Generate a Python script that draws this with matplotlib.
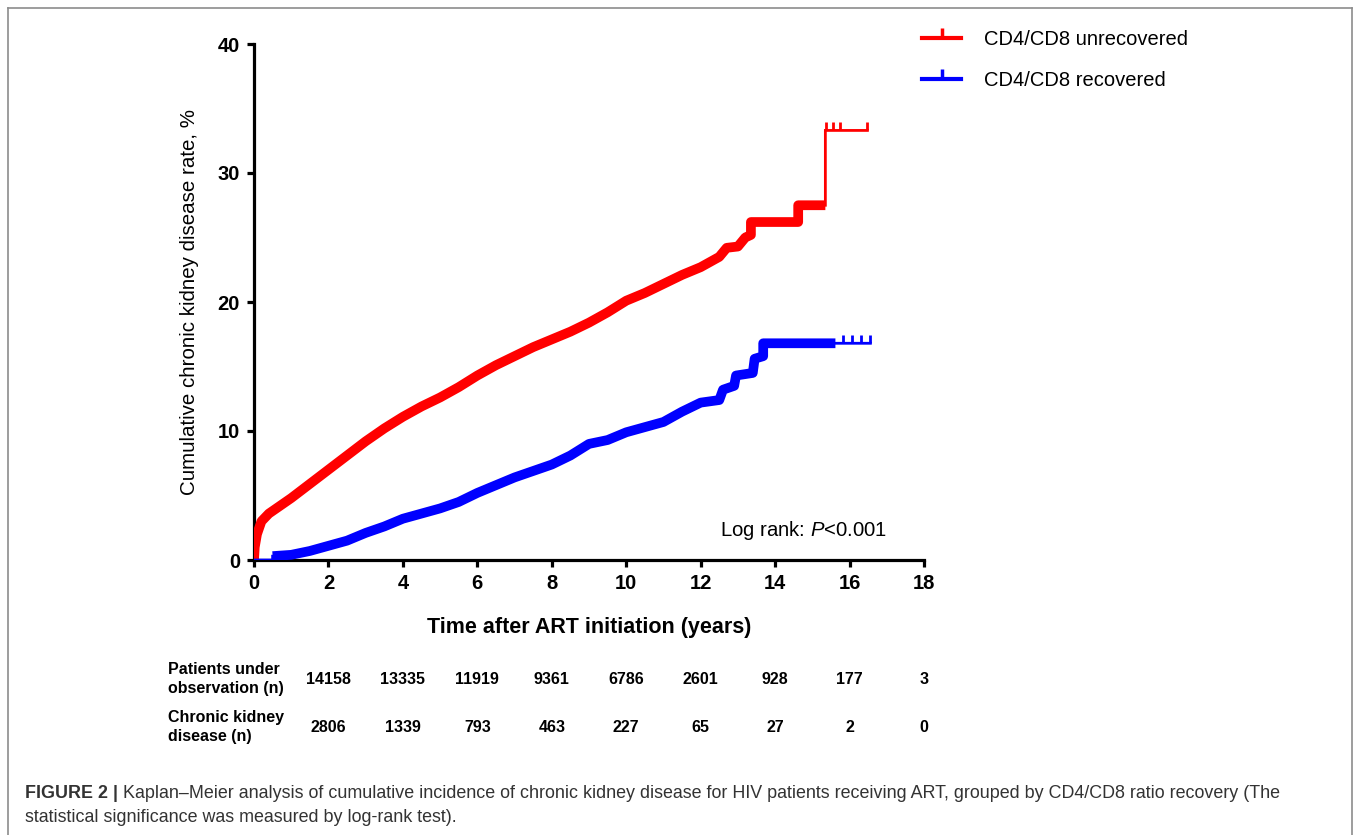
import numpy as np
import matplotlib
matplotlib.use("Agg")
import matplotlib.pyplot as plt
from matplotlib.path import Path
from matplotlib.lines import Line2D
from matplotlib.transforms import blended_transform_factory

plt.rcParams['font.family'] = ['Liberation Sans', 'DejaVu Sans']
plt.rcParams['mathtext.fontset'] = 'custom'
plt.rcParams['mathtext.rm'] = 'Liberation Sans'
plt.rcParams['mathtext.it'] = 'Liberation Sans:italic'

# Kaplan-Meier curves (years, %)
red_t = np.array([0, 0.02, 0.08, 0.2, 0.4, 0.6, 1.0, 1.5, 2.0, 2.5, 3.0, 3.5, 4.0, 4.5,
                  5.0, 5.5, 6.0, 6.5, 7.0, 7.5, 8.0, 8.5, 9.0, 9.5, 10.0, 10.5, 11.0,
                  11.5, 12.0, 12.5, 12.7, 13.0, 13.2, 13.35, 13.35, 14.62, 14.62,
                  15.35, 15.35, 16.48])
red_y = np.array([0, 1.0, 2.0, 3.0, 3.6, 4.0, 4.8, 5.9, 7.0, 8.1, 9.2, 10.2, 11.1, 11.9,
                  12.6, 13.4, 14.3, 15.1, 15.8, 16.5, 17.1, 17.7, 18.4, 19.2, 20.1, 20.7,
                  21.4, 22.1, 22.7, 23.5, 24.2, 24.3, 25.0, 25.2, 26.2, 26.2, 27.5,
                  27.5, 33.3, 33.3])
blue_t = np.array([0, 0.5, 0.5, 1.0, 1.5, 2.0, 2.5, 3.0, 3.5, 4.0, 4.5, 5.0, 5.5, 6.0,
                   6.5, 7.0, 7.5, 8.0, 8.5, 9.0, 9.5, 10.0, 10.5, 11.0, 11.5, 12.0, 12.5,
                   12.6, 12.9, 12.95, 13.4, 13.45, 13.68, 13.68, 16.56])
blue_y = np.array([0, 0, 0.3, 0.4, 0.7, 1.1, 1.5, 2.1, 2.6, 3.2, 3.6, 4.0, 4.5, 5.2,
                   5.8, 6.4, 6.9, 7.4, 8.1, 9.0, 9.3, 9.9, 10.3, 10.7, 11.5, 12.2, 12.4,
                   13.2, 13.5, 14.3, 14.5, 15.6, 15.8, 16.8, 16.8])

# span where censor marks are so dense they merge into a thick band
red_dense = (0.0, 15.35)
blue_dense = (0.5, 15.62)
# isolated censor marks at the tail
red_cens = [15.38, 15.55, 15.75, 16.48]
blue_cens = [15.83, 16.06, 16.31, 16.56]

# numbers at risk table
table_t = [2, 4, 6, 8, 10, 12, 14, 16, 18]
patients = [14158, 13335, 11919, 9361, 6786, 2601, 928, 177, 3]
ckd = [2806, 1339, 793, 463, 227, 65, 27, 2, 0]
row_labels = ["Patients under\nobservation (n)", "Chronic kidney\ndisease (n)"]

caption_bold = "FIGURE 2 |"
caption_1 = ("Kaplan\u2013Meier analysis of cumulative incidence of chronic kidney disease "
             "for HIV patients receiving ART, grouped by CD4/CD8 ratio recovery (The")
caption_2 = "statistical significance was measured by log-rank test)."

RED = '#ff0000'
BLUE = '#0000ff'
tick_mark = Path([(0, 0), (0, 1)])


def dense_part(t, y, t0, t1):
    m = (t > t0) & (t < t1)
    tt = np.r_[t0, t[m], t1]
    yy = np.r_[y[t <= t0][-1], y[m], y[t < t1][-1]]
    return tt, yy


def step_value(t, y, ts):
    idx = np.searchsorted(t, ts, side='right') - 1
    return y[idx]


fig = plt.figure(figsize=(13.58, 8.35), dpi=100)
ax = fig.add_axes([254 / 1358, 1 - 560 / 835, 670 / 1358, 516 / 835])

for t, y, dense, cens, c in [(red_t, red_y, red_dense, red_cens, RED),
                             (blue_t, blue_y, blue_dense, blue_cens, BLUE)]:
    ax.plot(t, y, color=c, lw=2, solid_joinstyle='miter', zorder=3)
    tt, yy = dense_part(t, y, *dense)
    ax.plot(tt, yy, color=c, lw=7, solid_capstyle='butt', zorder=3)
    ax.plot(cens, step_value(t, y, cens), ls='none', marker=tick_mark,
            markersize=12, mew=2, color=c, zorder=3)

ax.set_xlim(0, 18)
ax.set_ylim(0, 40)
ax.set_xticks(range(0, 19, 2))
ax.set_yticks([0, 10, 20, 30, 40])
for s in ['top', 'right']:
    ax.spines[s].set_visible(False)
for s in ['left', 'bottom']:
    ax.spines[s].set_linewidth(2.3)
ax.tick_params(direction='out', length=5, width=2.3, labelsize=14.5, pad=5)
for lab in ax.get_xticklabels() + ax.get_yticklabels():
    lab.set_fontweight('bold')

ax.set_xlabel("Time after ART initiation (years)", fontsize=15.5, fontweight='bold')
ax.xaxis.set_label_coords(0.5, -0.11)
ax.set_ylabel("Cumulative chronic kidney disease rate, %", fontsize=14.8)
ax.yaxis.set_label_coords(-0.082, 0.5)

ax.text(17.0, 2.3, "Log rank: $\\mathit{P}$<0.001", fontsize=14.6, ha='right', va='center')

handles = [Line2D([0], [0], color=RED, lw=3, marker=tick_mark, markersize=14, mew=2.5),
           Line2D([0], [0], color=BLUE, lw=3, marker=tick_mark, markersize=14, mew=2.5)]
fig.legend(handles, ["CD4/CD8 unrecovered", "CD4/CD8 recovered"], loc='upper left',
           bbox_to_anchor=(904 / 1358, 1 - 12 / 835), frameon=False, fontsize=14.5,
           handlelength=1.95, handletextpad=1.1, labelspacing=1.1, numpoints=1)

# numbers at risk, aligned with the x axis
trans = blended_transform_factory(ax.transData, fig.transFigure)
for row, (vals, ypix) in enumerate([(patients, 679), (ckd, 727)]):
    fig.text(168 / 1358, 1 - ypix / 835, row_labels[row], fontsize=11.5, fontweight='bold',
             ha='left', va='center', linespacing=1.3)
    for t, v in zip(table_t, vals):
        ax.text(t, 1 - ypix / 835, str(v), transform=trans, fontsize=11.5,
                fontweight='bold', ha='center', va='center', clip_on=False)

# frame of the figure panel
frame_c = '#8c8c8c'
fig.add_artist(Line2D([8 / 1358, 8 / 1358], [0, 1 - 8 / 835], color=frame_c, lw=1.2))
fig.add_artist(Line2D([8 / 1358, 1352 / 1358], [1 - 8 / 835, 1 - 8 / 835], color=frame_c, lw=1.2))
fig.add_artist(Line2D([1352 / 1358, 1352 / 1358], [0, 1 - 8 / 835], color=frame_c, lw=1.2))

# caption
cap_c = '#333333'
tb = fig.text(25 / 1358, 1 - 793 / 835, caption_bold, fontsize=12.9, fontweight='bold',
              color=cap_c, va='center')
fig.canvas.draw()
bb = tb.get_window_extent()
fig.text((bb.x1 + 5) / 1358, 1 - 793 / 835, caption_1, fontsize=12.9, color=cap_c, va='center')
fig.text(25 / 1358, 1 - 817 / 835, caption_2, fontsize=12.9, color=cap_c, va='center')

fig.savefig("out.png", dpi=100)
